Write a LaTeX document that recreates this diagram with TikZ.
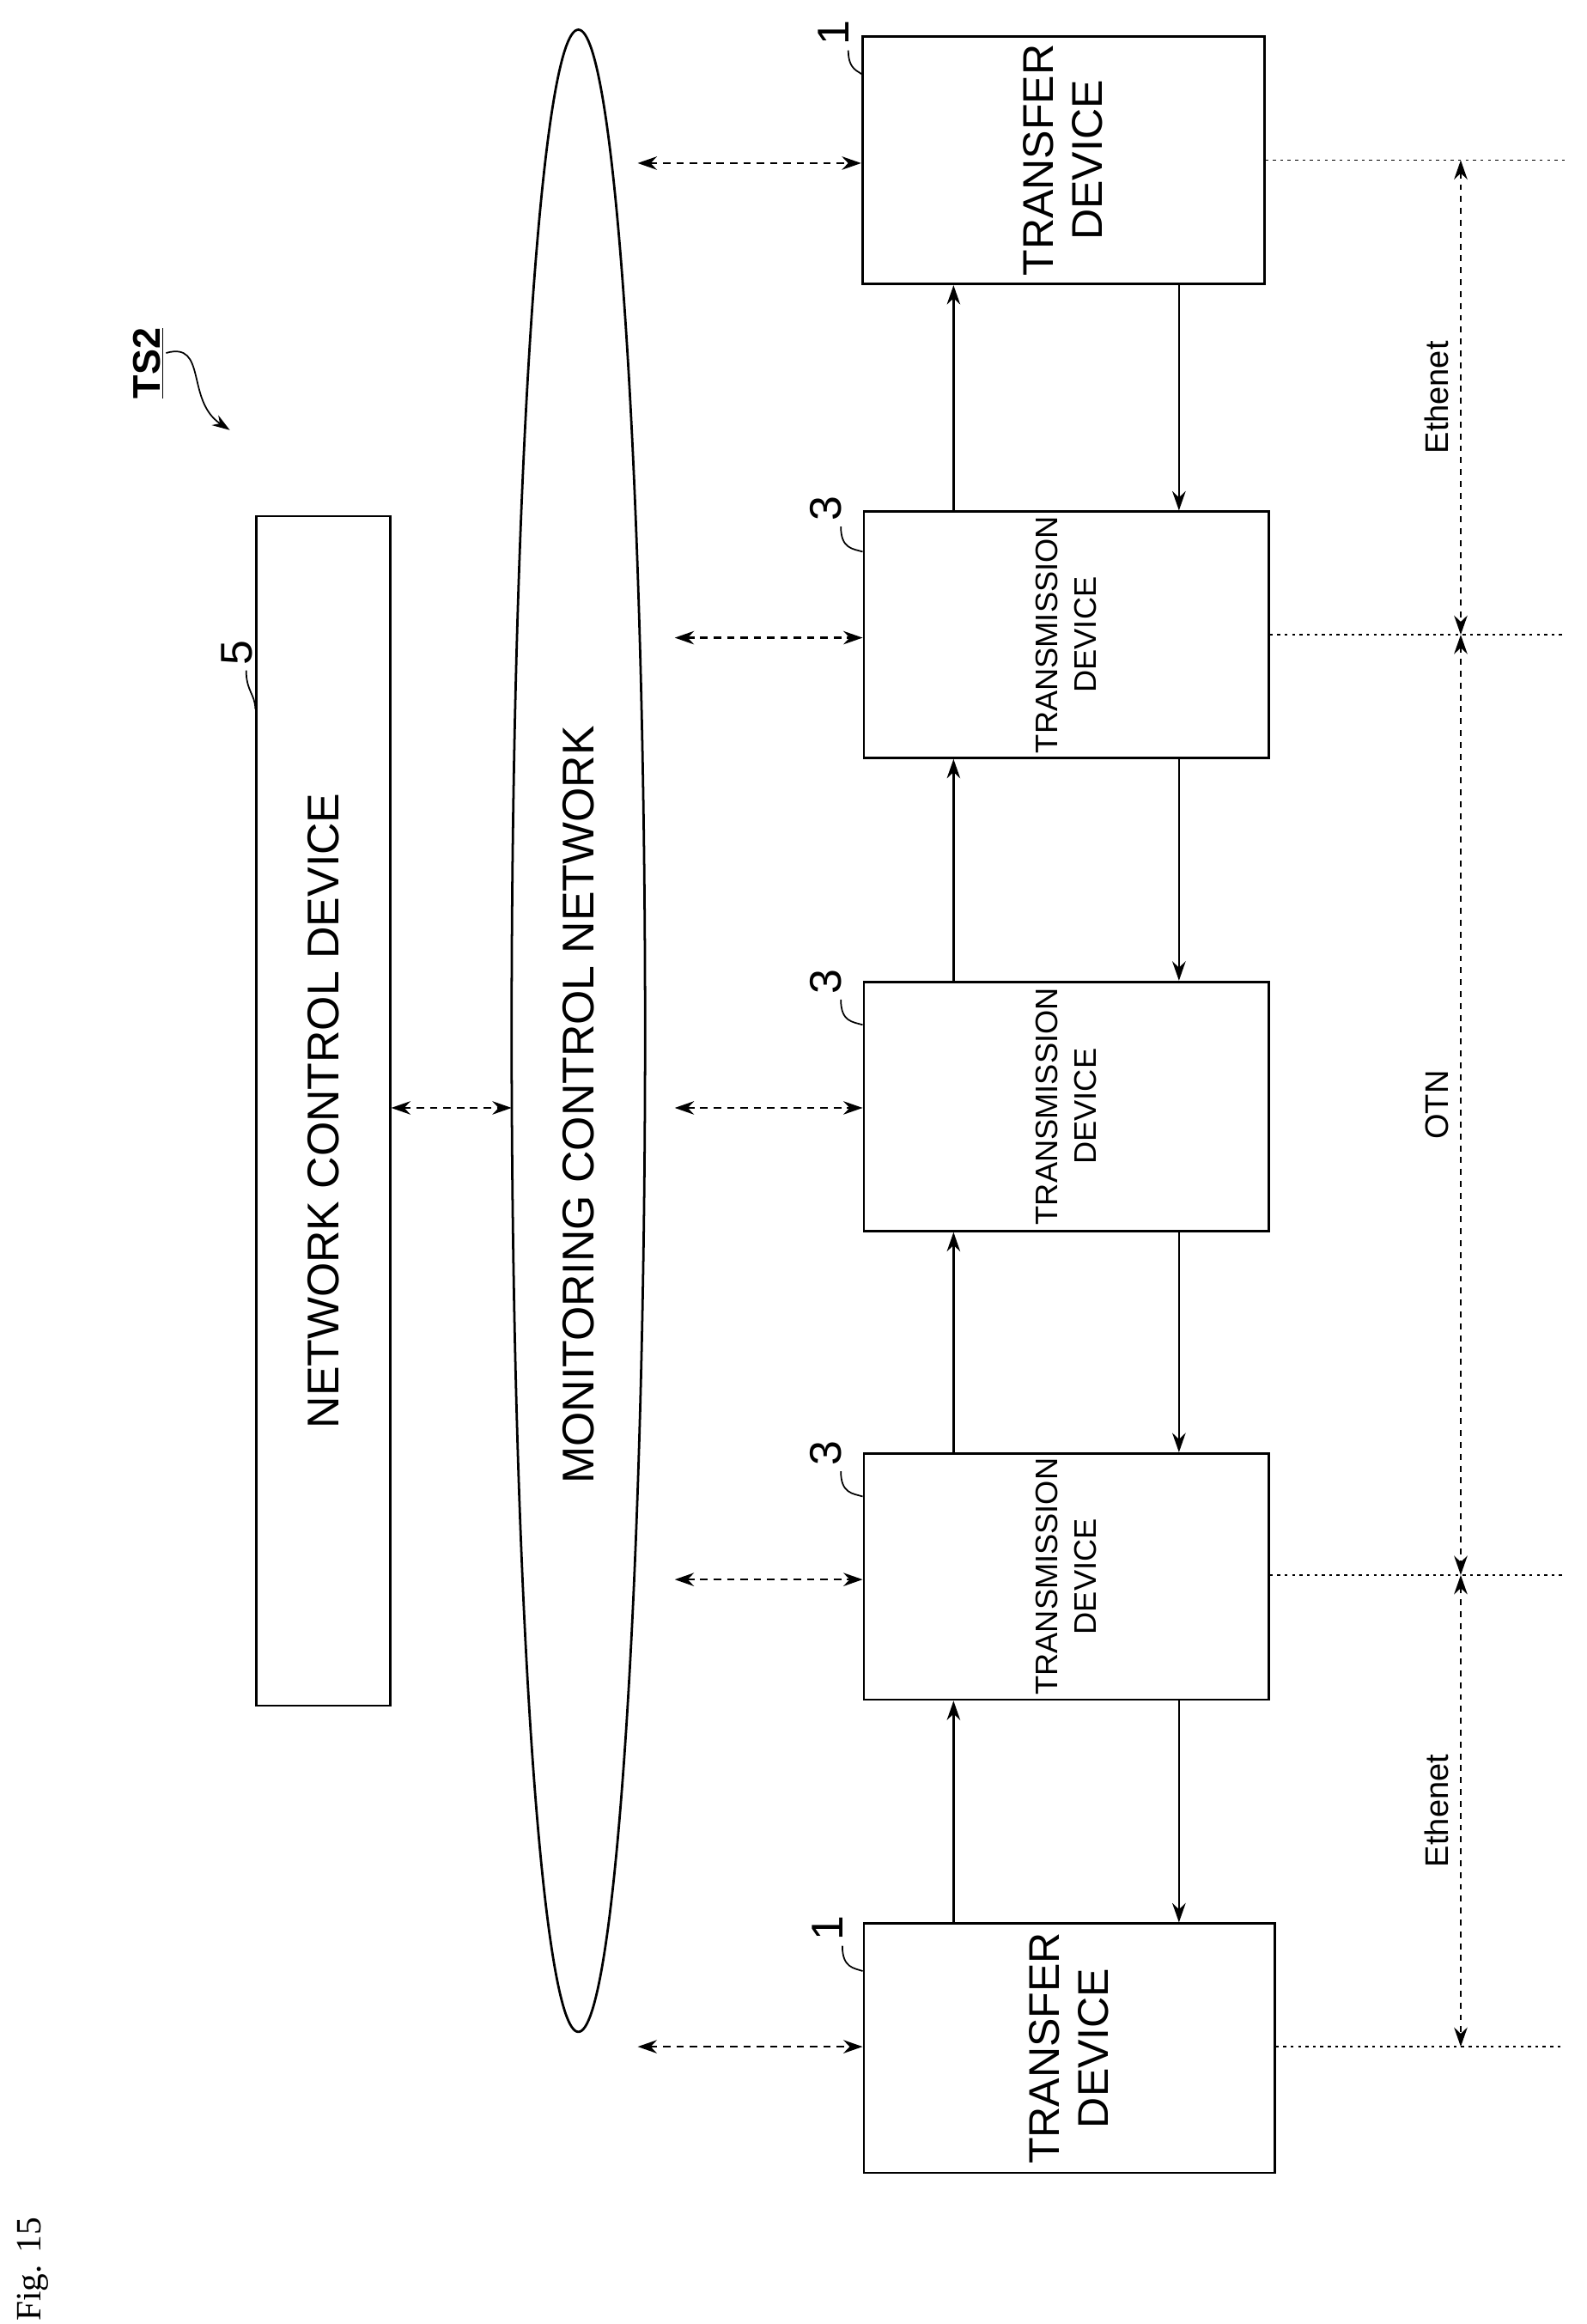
\documentclass[tikz,border=0pt]{standalone}
\usepackage{fontspec}
\setmainfont{Liberation Sans}
\newfontfamily\figfont{Liberation Serif}
\usetikzlibrary{shapes.geometric,arrows.meta}
\tikzset{
  dev/.style={draw, line width=1.6pt, rotate=90, align=center, inner sep=0pt},
  link/.style={line width=1.4pt, -{Stealth[length=13pt,width=9pt]}},
  mon/.style={line width=1.3pt, dashed, dash pattern=on 5pt off 4pt, {Stealth[length=13pt,width=9pt]}-{Stealth[length=13pt,width=9pt]}},
  dim/.style={line width=1.2pt, dash pattern=on 4pt off 4pt, {Stealth[length=13pt,width=9pt]}-{Stealth[length=13pt,width=9pt]}},
  ref/.style={line width=1pt, dash pattern=on 2pt off 3pt},
  num/.style={font=\fontsize{30}{32}\selectfont},
}
\begin{document}
\begin{tikzpicture}[x=1pt,y=-1pt]
\useasboundingbox (0,0) rectangle (1070,1567);

% devices
\node[dev, minimum width=167pt, minimum height=271pt, font=\fontsize{29}{33}\selectfont] (t0) at (717,108) {TRANSFER\\DEVICE};
\node[dev, minimum width=166pt, minimum height=273pt, font=\fontsize{21}{26}\selectfont] (s1) at (719,428) {TRANSMISSION\\DEVICE};
\node[dev, minimum width=168pt, minimum height=273pt, font=\fontsize{21}{26}\selectfont] (s2) at (719,746) {TRANSMISSION\\DEVICE};
\node[dev, minimum width=166pt, minimum height=273pt, font=\fontsize{21}{26}\selectfont] (s3) at (719,1063) {TRANSMISSION\\DEVICE};
\node[dev, minimum width=168pt, minimum height=277pt, font=\fontsize{29}{33}\selectfont] (t1) at (721,1381) {TRANSFER\\DEVICE};

\node[dev, minimum width=802pt, minimum height=90pt, font=\fontsize{30}{32}\selectfont] (ncd) at (218,749) {NETWORK CONTROL DEVICE};
\node[draw, ellipse, line width=1.6pt, minimum width=90pt, minimum height=1350pt, inner sep=0pt] (mcn) at (390,695) {};
\node[rotate=90, font=\fontsize{30}{32}\selectfont] (mcnlabel) at (390,745) {MONITORING CONTROL NETWORK};

% links between devices
\foreach \lo/\up in {s1/t0, s2/s1, s3/s2, t1/s3} {
  \draw[link] (643,0 |- \lo.east) -- (643,0 |- \up.west);
  \draw[link] (795,0 |- \up.west) -- (795,0 |- \lo.east);
}

% monitoring links
\coordinate (m0) at (430,110);
\coordinate (m1) at (455,430);
\coordinate (m2) at (455,747);
\coordinate (m3) at (455,1065);
\coordinate (m4) at (430,1380);
\draw[mon] (m0) -- (t0.north |- m0);
\draw[mon] (m1) -- (s1.north |- m1);
\draw[mon] (m2) -- (s2.north |- m2);
\draw[mon] (m3) -- (s3.north |- m3);
\draw[mon] (m4) -- (t1.north |- m4);
\coordinate (n0) at (345,747);
\draw[mon] (ncd.south |- n0) -- (n0);

% domain reference lines
\coordinate (d0) at (985,108);
\coordinate (d1) at (985,428);
\coordinate (d2) at (985,1062);
\coordinate (d3) at (985,1380);
\draw[ref] (t0.south |- d0) -- (1055,108);
\draw[ref] (s1.south |- d1) -- (1055,428);
\draw[ref] (s3.south |- d2) -- (1055,1062);
\draw[ref] (t1.south |- d3) -- (1055,1380);
\draw[dim] (d0) -- (d1) node[midway, left=4pt, rotate=90, anchor=south, font=\fontsize{22}{24}\selectfont] {Ethenet};
\draw[dim] (d1) -- (d2) node[midway, left=4pt, rotate=90, anchor=south, font=\fontsize{22}{24}\selectfont] {OTN};
\draw[dim] (d2) -- (d3) node[midway, left=4pt, rotate=90, anchor=south, font=\fontsize{22}{24}\selectfont] {Ethenet};

% reference numerals
\node[num, rotate=90] (r0) at (562,22) {1};
\draw[line width=1pt] (572,34) .. controls (572,48) and (580,48) .. (t0.north |- 0,50);
\node[num, rotate=90] (r1) at (557,343) {3};
\draw[line width=1pt] (567,355) .. controls (567,370) and (575,370) .. (s1.north |- 0,372);
\node[num, rotate=90] (r2) at (557,662) {3};
\draw[line width=1pt] (567,674) .. controls (567,689) and (575,689) .. (s2.north |- 0,691);
\node[num, rotate=90] (r3) at (557,980) {3};
\draw[line width=1pt] (567,992) .. controls (567,1007) and (575,1007) .. (s3.north |- 0,1009);
\node[num, rotate=90] (r4) at (558,1300) {1};
\draw[line width=1pt] (568,1312) .. controls (568,1327) and (576,1327) .. (t1.north |- 0,1329);
\node[num, rotate=90] (r5) at (160,440) {5};
\draw[line width=1pt] (166,452) .. controls (166,466) and (172,468) .. (ncd.north |- 0,478);

% system label
\node[rotate=90, font=\fontsize{26}{28}\selectfont\bfseries] (ts) at (100,245) {\underline{TS2}};
\draw[line width=1pt, -{Stealth[length=12pt,width=8pt]}] (112,238) .. controls (140,230) and (125,270) .. (155,290);

\node[rotate=90, font=\figfont\fontsize{24}{26}\selectfont] (fig) at (22,1530) {Fig. 15};
\end{tikzpicture}
\end{document}
